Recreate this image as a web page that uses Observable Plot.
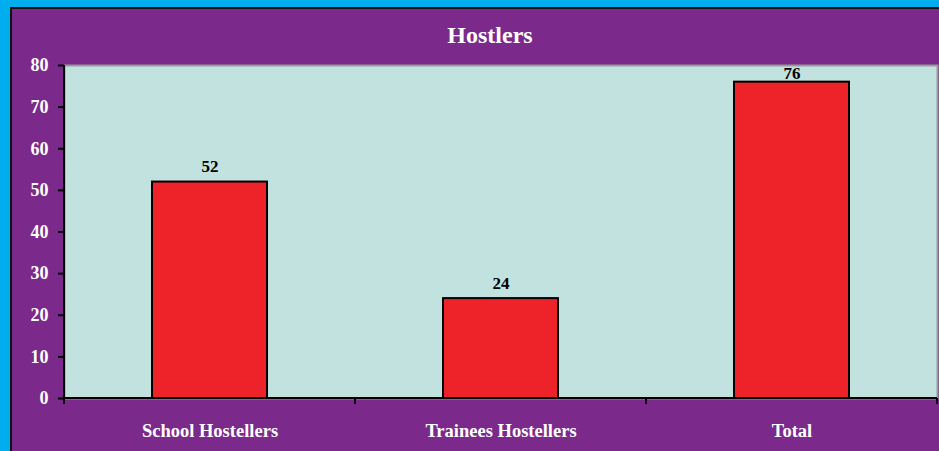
<!DOCTYPE html>
<html><head><meta charset="utf-8">
<script src="https://cdn.jsdelivr.net/npm/d3@7"></script>
<script src="https://cdn.jsdelivr.net/npm/@observablehq/plot@0.6"></script>
<style>
body{margin:0;}
#wrap{position:relative;width:939px;height:451px;background:#00aeef;overflow:hidden;}
#panel{position:absolute;left:10px;top:7px;right:0;bottom:0;background:#7b2a8b;border-left:2px solid #111;border-top:2px solid #111;}
#title{position:absolute;left:390px;width:200px;top:23px;text-align:center;font:bold 24px/1 "Liberation Serif","Times New Roman",serif;color:#fff;}
#chart{position:absolute;left:0;top:0;}
</style>
</head><body>
<div id="wrap"><div id="panel"></div><div id="title">Hostlers</div><div id="chart"></div></div>
<script>
const categories = ["School Hostellers", "Trainees Hostellers", "Total"];
const values = [52, 24, 76];
const yTicks = [0, 10, 20, 30, 40, 50, 60, 70, 80];
const data = categories.map((c, i) => ({category: c, value: values[i]}));

function boundaryTicks(index, scales, vals, dims) {
  const x = scales.x;
  const bw = typeof x.bandwidth === "function" ? x.bandwidth() : x.bandwidth;
  const step = x(categories[1]) - x(categories[0]);
  const bottom = dims.height - dims.marginBottom;
  const g = d3.create("svg:g").attr("stroke", "black").attr("stroke-width", 2);
  const bounds = categories.map(c => x(c) + bw / 2 - step / 2);
  bounds.push(x(categories[categories.length - 1]) + bw / 2 + step / 2);
  for (const b of bounds) g.append("line").attr("x1", b).attr("x2", b).attr("y1", bottom).attr("y2", bottom + 6);
  g.append("line").attr("x1", dims.marginLeft).attr("x2", dims.marginLeft).attr("y1", dims.marginTop).attr("y2", bottom + 6);
  g.append("line").attr("x1", dims.marginLeft).attr("x2", dims.width - dims.marginRight).attr("y1", bottom).attr("y2", bottom);
  return g.node();
}

const chart = Plot.plot({
  width: 939, height: 451,
  marginLeft: 64, marginRight: 2, marginTop: 65, marginBottom: 53,
  style: {fontFamily: "'Liberation Serif','Times New Roman',serif", fontWeight: "bold", fontSize: "18px", background: "transparent"},
  x: {domain: categories, paddingInner: 0.605, paddingOuter: 0.3025, label: null},
  y: {domain: [0, 80], label: null},
  marks: [
    Plot.frame({fill: "#c2e2e0", stroke: "#9a9a9a", strokeWidth: 2}),
    Plot.barY(data, {x: "category", y: "value", fill: "#ee2229", stroke: "black", strokeWidth: 2}),
    Plot.text(data.filter(d => d.value < 70), {x: "category", y: "value", text: d => String(d.value), dy: -10, lineAnchor: "bottom", fill: "black", fontSize: 17, fontWeight: "bold"}),
    Plot.text(data.filter(d => d.value >= 70), {x: "category", y: "value", text: d => String(d.value), dy: -3, lineAnchor: "bottom", fill: "black", fontSize: 17, fontWeight: "bold"}),
    Plot.axisY({ticks: yTicks, tickSize: 6, tickPadding: 10, stroke: "black", strokeWidth: 2, fill: "white", fontSize: 18, fontWeight: "bold", label: null}),
    Plot.axisX({tickSize: 0, tickPadding: 25, fill: "white", fontSize: 18.5, fontWeight: "bold", label: null}),
    boundaryTicks
  ]
});
document.getElementById("chart").append(chart);
</script>
</body></html>
